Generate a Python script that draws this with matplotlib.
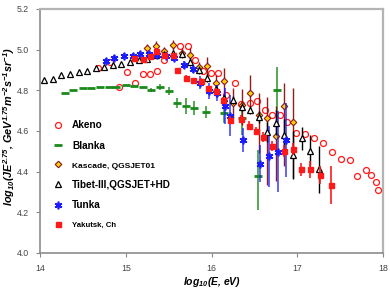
import matplotlib
matplotlib.use('Agg')
import matplotlib.pyplot as plt
from matplotlib.lines import Line2D

plt.rcParams['font.family'] = ['Liberation Sans', 'DejaVu Sans']
plt.rcParams['mathtext.default'] = 'regular'

# Akeno
akeno_e = [14.68, 14.82, 14.92, 15.02, 15.11, 15.20, 15.28, 15.37, 15.45, 15.63, 15.72,
           15.81, 15.90, 15.99, 16.08, 16.17, 16.27, 16.34, 16.45, 16.53, 16.62, 16.71,
           16.80, 16.88, 16.99, 17.09, 17.19, 17.30, 17.40, 17.51, 17.61, 17.70, 17.80,
           17.86, 17.92, 17.94]
akeno_y = [4.912, 4.941, 4.815, 4.890, 4.838, 4.878, 4.878, 4.895, 4.947, 5.019, 5.019,
           4.949, 4.895, 4.884, 4.884, 4.777, 4.835, 4.733, 4.736, 4.747, 4.703, 4.681,
           4.681, 4.646, 4.592, 4.585, 4.564, 4.539, 4.498, 4.461, 4.457, 4.379, 4.408,
           4.383, 4.351, 4.310]

# Blanka
blanka_e = [14.29, 14.39, 14.50, 14.59, 14.70, 14.80, 14.89, 15.00, 15.10, 15.20, 15.30,
            15.40, 15.50, 15.60, 15.70, 15.79, 15.94, 16.14, 16.35, 16.54, 16.76]
blanka_y = [4.788, 4.804, 4.809, 4.810, 4.815, 4.815, 4.816, 4.826, 4.821, 4.815, 4.802,
            4.815, 4.798, 4.736, 4.723, 4.712, 4.695, 4.690, 4.662, 4.379, 4.802]
blanka_lo = [0, 0, 0, 0, 0, 0, 0, 0, 0, 0, 0.01, 0.015, 0.02, 0.025, 0.04, 0.035, 0.03,
             0.05, 0.08, 0.167, 0.148]
blanka_hi = [0, 0, 0, 0, 0, 0, 0, 0, 0, 0, 0.01, 0.015, 0.02, 0.025, 0.04, 0.035, 0.03,
             0.05, 0.08, 0.128, 0.113]

# Kascade, QGSJET01
kascade_e = [15.25, 15.35, 15.45, 15.55, 15.65, 15.75, 15.85, 15.95, 16.05, 16.15, 16.25,
             16.35, 16.45, 16.55, 16.65, 16.75, 16.85, 16.95]
kascade_y = [5.007, 5.018, 4.995, 5.021, 4.985, 4.976, 4.916, 4.922, 4.835, 4.846, 4.738,
             4.728, 4.785, 4.679, 4.666, 4.575, 4.725, 4.646]
kascade_lo = [0.02, 0.025, 0.02, 0.025, 0.025, 0.03, 0.025, 0.061, 0.069, 0.093, 0.075,
              0.098, 0.084, 0.187, 0.33, 0.22, 0.295, 0.275]
kascade_hi = [0.02, 0.025, 0.02, 0.025, 0.025, 0.03, 0.025, 0.042, 0.039, 0.064, 0.075,
              0.079, 0.089, 0.108, 0.103, 0.148, 0.113, 0.167]

# Tibet-III
tibet_e = [14.05, 14.15, 14.25, 14.35, 14.45, 14.55, 14.65, 14.75, 14.85, 14.95, 15.05,
           15.15, 15.25, 15.35, 15.45, 15.55, 15.65, 15.75, 15.85, 15.95, 16.05, 16.15,
           16.25, 16.35, 16.45, 16.55, 16.65, 16.75, 16.85, 16.95, 17.05, 17.15, 17.25]
tibet_y = [4.851, 4.857, 4.875, 4.882, 4.889, 4.897, 4.908, 4.913, 4.923, 4.929, 4.938,
           4.949, 4.954, 4.974, 4.979, 4.984, 4.979, 4.938, 4.900, 4.859, 4.806, 4.764,
           4.752, 4.718, 4.703, 4.670, 4.595, 4.641, 4.578, 4.482, 4.564, 4.503, 4.411]
tibet_err = [0, 0, 0, 0, 0, 0, 0, 0, 0, 0, 0, 0, 0, 0, 0, 0, 0, 0.02, 0.02, 0.02, 0.02,
             0.02, 0.02, 0.02, 0.02, 0.03, 0.05, 0.06, 0.08, 0.12, 0.057, 0.075, 0.115]

# Tunka
tunka_e = [14.77, 14.86, 14.98, 15.08, 15.17, 15.27, 15.37, 15.47, 15.56, 15.68, 15.78,
           15.87, 15.97, 16.06, 16.16, 16.22, 16.37, 16.57, 16.67, 16.77, 16.87]
tunka_y = [4.946, 4.959, 4.969, 4.969, 4.979, 4.979, 4.976, 4.969, 4.961, 4.926, 4.903,
           4.838, 4.797, 4.788, 4.723, 4.676, 4.556, 4.440, 4.477, 4.498, 4.556]
tunka_err = [0.015, 0.015, 0.015, 0.015, 0.015, 0.015, 0.015, 0.015, 0.015, 0.02, 0.02,
             0.03, 0.04, 0.04, 0.09, 0.1, 0.06, 0.093, 0.15, 0.2, 0.18]

# Yakutsk, Ch
yakutsk_e = [15.10, 15.20, 15.28, 15.35, 15.45, 15.55, 15.60, 15.70, 15.78, 15.88, 15.96,
             16.05, 16.13, 16.22, 16.34, 16.44, 16.52, 16.60, 16.71, 16.84, 16.95, 17.04,
             17.15, 17.26, 17.39]
yakutsk_y = [4.958, 4.953, 4.969, 4.995, 4.974, 4.974, 4.898, 4.863, 4.851, 4.848, 4.810,
             4.797, 4.750, 4.656, 4.661, 4.627, 4.602, 4.572, 4.526, 4.503, 4.510, 4.411,
             4.411, 4.383, 4.334]
yakutsk_err = [0.012, 0.012, 0.012, 0.012, 0.012, 0.012, 0.012, 0.012, 0.012, 0.012, 0.012,
               0.012, 0.015, 0.02, 0.02, 0.02, 0.02, 0.025, 0.025, 0.03, 0.03, 0.033,
               0.04, 0.045, 0.095]

labels = ['Akeno', 'Blanka', 'Kascade, QGSJET01', 'Tibet-III,QGSJET+HD', 'Tunka', 'Yakutsk, Ch']

red = '#ff1a1a'
green = '#1a8a1a'
dkred = '#8b1010'
blue = '#1a1aff'

fig = plt.figure(figsize=(3.9, 2.9), dpi=100)
ax = fig.add_axes([0.1026, 0.1276, 0.8795, 0.8414])

ax.plot(akeno_e, akeno_y, 'o', ms=4.3, mfc='none', mec=red, mew=0.9, zorder=3)
ax.errorbar(blanka_e, blanka_y, yerr=[blanka_lo, blanka_hi], fmt='_', ms=6, mew=2,
            color=green, ecolor='#3a9a3a', elinewidth=1.2, capsize=0, zorder=3)
ax.errorbar(kascade_e, kascade_y, yerr=[kascade_lo, kascade_hi], fmt='D', ms=3.3,
            mfc='#ffd700', mec=dkred, mew=0.8, ecolor=dkred, elinewidth=1.0,
            capsize=0, alpha=0.95, zorder=4)
ax.errorbar(tibet_e, tibet_y, yerr=tibet_err, fmt='^', ms=4.5, mfc='white', mec='black',
            mew=0.9, ecolor='black', elinewidth=1.0, capsize=0, zorder=5)
ax.errorbar(tunka_e, tunka_y, yerr=tunka_err, fmt='none', ecolor=blue, elinewidth=1.2,
            capsize=0, alpha=0.8, zorder=5)
ax.plot(tunka_e, tunka_y, ls='none', marker=(6, 2, 0), ms=5.5, mec=blue, mew=1.2, zorder=6)
ax.errorbar(yakutsk_e, yakutsk_y, yerr=yakutsk_err, fmt='s', ms=3.6, color=red,
            ecolor=red, elinewidth=1.2, capsize=0, zorder=6)

ax.set_xlim(14, 18)
ax.set_ylim(4.0, 5.2)
ax.set_xticks([14, 15, 16, 17, 18])
ax.set_yticks([4.0, 4.2, 4.4, 4.6, 4.8, 5.0, 5.2])
ax.set_yticklabels(['4.0', '4.2', '4.4', '4.6', '4.8', '5.0', '5.2'])
ax.tick_params(direction='out', length=3, width=0.8, colors='#888888',
               labelcolor='#444444', labelsize=6.3, pad=5)

for side in ['left', 'bottom']:
    ax.spines[side].set_color('#8c8c8c')
    ax.spines[side].set_linewidth(1.2)
for side in ['top', 'right']:
    ax.spines[side].set_color('#b4b4b4')
    ax.spines[side].set_linewidth(1.6)

ax.set_xlabel(r'log$_{10}$(E, eV)', fontsize=7.5, fontstyle='italic',
              fontweight='bold')
ax.set_ylabel(r'log$_{10}$(JE$^{2.75}$, GeV$^{1.75}$m$^{-2}$s$^{-1}$sr$^{-1}$)',
              fontsize=7.8, fontstyle='italic', fontweight='bold')
ax.xaxis.set_label_coords(0.5, -0.09)
ax.yaxis.set_label_coords(-0.066, 0.52)

handles = [
    Line2D([], [], ls='none', marker='o', ms=4.3, mfc='none', mec=red, mew=0.9),
    Line2D([], [], ls='none', marker='_', ms=6, mew=2, color=green),
    Line2D([], [], ls='none', marker='D', ms=3.3, mfc='#ffd700', mec=dkred, mew=0.8),
    Line2D([], [], ls='none', marker='^', ms=4.5, mfc='white', mec='black', mew=0.9),
    Line2D([], [], ls='none', marker=(6, 2, 0), ms=5.5, mec=blue, mew=1.2),
    Line2D([], [], ls='none', marker='s', ms=3.6, color=red),
]
leg = ax.legend(handles, labels, loc='upper left', bbox_to_anchor=(0.0, 0.595),
                frameon=False, handlelength=1.0, handletextpad=1.0,
                labelspacing=1.05, borderaxespad=0.9,
                prop={'size': 7, 'weight': 'bold'})
sizes = [7.2, 7.2, 6.0, 7.2, 7.2, 5.6]
for t, s in zip(leg.get_texts(), sizes):
    t.set_fontsize(s)

fig.savefig('out.png', dpi=100)
